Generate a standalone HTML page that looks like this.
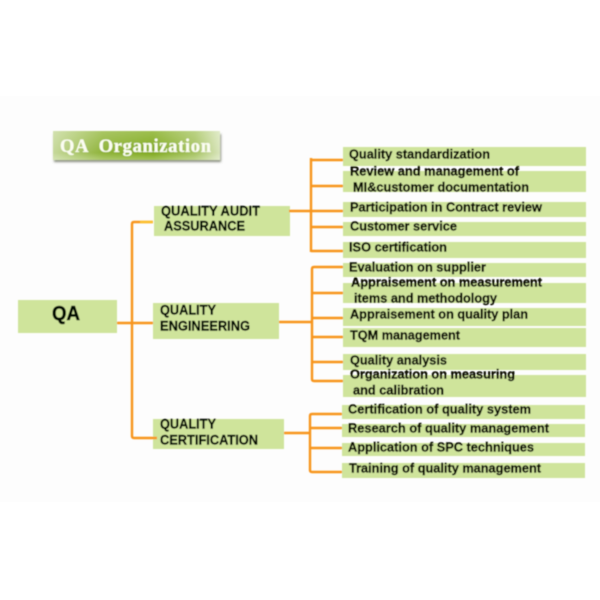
<!DOCTYPE html>
<html>
<head>
<meta charset="utf-8">
<style>
html,body{margin:0;padding:0;background:#fff;width:600px;height:600px;overflow:hidden}
svg{display:block}
.t{font-family:"Liberation Sans",sans-serif;font-weight:bold;font-size:12.9px;fill:#0a1004;stroke:#0a1004;stroke-width:.4}
.h{font-family:"Liberation Sans",sans-serif;font-weight:bold;font-size:13.6px;fill:#060b02;stroke:#060b02;stroke-width:.4}
.b{fill:#cfe49b}
.o{stroke:#f8941a;stroke-width:2.4;fill:none}
</style>
</head>
<body>
<svg width="600" height="600" viewBox="0 0 600 600" xmlns="http://www.w3.org/2000/svg">
<defs>
<linearGradient id="gv" x1="0" y1="0" x2="0" y2="1">
<stop offset="0" stop-color="#9dbe4e"/>
<stop offset="0.75" stop-color="#7fa81e"/>
<stop offset="1" stop-color="#a3c35a"/>
</linearGradient>
<linearGradient id="gh" x1="0" y1="0" x2="1" y2="0">
<stop offset="0" stop-color="#ffffff" stop-opacity="0.55"/>
<stop offset="0.3" stop-color="#ffffff" stop-opacity="0.12"/>
<stop offset="0.6" stop-color="#ffffff" stop-opacity="0"/>
<stop offset="0.85" stop-color="#ffffff" stop-opacity="0.3"/>
<stop offset="1" stop-color="#ffffff" stop-opacity="0.7"/>
</linearGradient>
<filter id="soft" x="-2%" y="-2%" width="104%" height="104%"><feGaussianBlur stdDeviation="0.5"/></filter>
<filter id="sh" x="-5%" y="-20%" width="110%" height="150%"><feGaussianBlur stdDeviation="1"/></filter>
</defs>
<rect x="0" y="96" width="600" height="406" fill="#fdfdfd"/>
<g filter="url(#soft)">
<rect x="54" y="134" width="167" height="28" fill="#8a8f80" filter="url(#sh)"/>
<rect x="53" y="131" width="167" height="29" fill="url(#gv)"/>
<rect x="53" y="131" width="167" height="29" fill="url(#gh)"/>
<text x="60" y="152" font-family="'Liberation Serif',serif" font-weight="bold" font-size="18.5" fill="#fbfdf2" stroke="#fbfdf2" stroke-width=".3" textLength="151" lengthAdjust="spacing" xml:space="preserve">QA  Organization</text>

<rect class="b" x="18" y="300" width="99" height="33"/>
<rect class="b" x="154" y="206" width="136" height="30"/>
<rect class="b" x="153" y="303" width="126" height="36"/>
<rect class="b" x="153" y="419" width="131" height="30"/>

<rect class="b" x="343" y="147" width="243" height="19"/>
<rect class="b" x="343" y="171" width="243" height="21"/>
<rect class="b" x="343" y="202" width="243" height="15"/>
<rect class="b" x="343" y="222" width="243" height="14"/>
<rect class="b" x="343" y="242" width="243" height="16"/>
<rect class="b" x="343" y="263" width="243" height="14"/>
<rect class="b" x="343" y="283" width="243" height="20"/>
<rect class="b" x="343" y="308" width="243" height="18"/>
<rect class="b" x="343" y="328" width="243" height="19"/>
<rect class="b" x="343" y="354" width="243" height="16"/>
<rect class="b" x="343" y="375" width="243" height="22"/>
<rect class="b" x="342" y="405" width="243" height="14"/>
<rect class="b" x="342" y="424" width="243" height="13"/>
<rect class="b" x="342" y="443" width="243" height="13"/>
<rect class="b" x="342" y="463" width="243" height="15"/>

<path class="o" d="M153 222H134Q132 222 132 224V436Q132 438 134 438H157"/>
<path class="o" d="M117 323H153"/>
<path d="M140 222H153" stroke="#fbc02d" stroke-width="2.4" fill="none"/>

<path class="o" d="M289 211H343M311 158V252M311 160H343M311 186H343M311 227H343M311 251H343"/>
<path class="o" d="M343 267H314Q312 267 312 269V379Q312 381 314 381H343M312 293H343M312 318H343M312 337H343M312 362H343M279 322H312"/>
<path class="o" d="M342 414H312Q310 414 310 416V470Q310 472 312 472H342M310 428H342M310 448H342M284 433H310"/>

<text x="52" y="320" font-family="'Liberation Sans',sans-serif" font-weight="bold" font-size="20" fill="#060b02" stroke="#060b02" stroke-width=".6" textLength="28" lengthAdjust="spacingAndGlyphs">QA</text>

<g transform="translate(0,0.5)">
<text class="h" x="161" y="215" textLength="99" lengthAdjust="spacingAndGlyphs">QUALITY AUDIT</text>
<text class="h" x="164" y="230" textLength="81" lengthAdjust="spacingAndGlyphs">ASSURANCE</text>
<text class="h" x="160" y="314" textLength="56" lengthAdjust="spacingAndGlyphs">QUALITY</text>
<text class="h" x="160" y="330" textLength="90" lengthAdjust="spacingAndGlyphs">ENGINEERING</text>
<text class="h" x="160" y="428" textLength="56" lengthAdjust="spacingAndGlyphs">QUALITY</text>
<text class="h" x="160" y="444" textLength="98" lengthAdjust="spacingAndGlyphs">CERTIFICATION</text>

<text class="t" x="349" y="158" textLength="141" lengthAdjust="spacingAndGlyphs">Quality standardization</text>
<text class="t" x="350" y="175" textLength="169" lengthAdjust="spacingAndGlyphs">Review and management of</text>
<text class="t" x="353" y="191" textLength="176" lengthAdjust="spacingAndGlyphs">MI&amp;customer documentation</text>
<text class="t" x="350" y="211" textLength="192" lengthAdjust="spacingAndGlyphs">Participation in Contract review</text>
<text class="t" x="350" y="230" textLength="107" lengthAdjust="spacingAndGlyphs">Customer service</text>
<text class="t" x="349" y="251" textLength="98" lengthAdjust="spacingAndGlyphs">ISO certification</text>
<text class="t" x="349" y="271" textLength="137" lengthAdjust="spacingAndGlyphs">Evaluation on supplier</text>
<text class="t" x="351" y="286" textLength="191" lengthAdjust="spacingAndGlyphs">Appraisement on measurement</text>
<text class="t" x="354" y="302" textLength="143" lengthAdjust="spacingAndGlyphs">items and methodology</text>
<text class="t" x="350" y="318" textLength="178" lengthAdjust="spacingAndGlyphs">Appraisement on quality plan</text>
<text class="t" x="350" y="339" textLength="110" lengthAdjust="spacingAndGlyphs">TQM management</text>
<text class="t" x="350" y="364" textLength="97" lengthAdjust="spacingAndGlyphs">Quality analysis</text>
<text class="t" x="350" y="378" textLength="165" lengthAdjust="spacingAndGlyphs">Organization on measuring</text>
<text class="t" x="353" y="394" textLength="91" lengthAdjust="spacingAndGlyphs">and calibration</text>
<text class="t" x="348" y="413" textLength="183" lengthAdjust="spacingAndGlyphs">Certification of quality system</text>
<text class="t" x="348" y="432" textLength="201" lengthAdjust="spacingAndGlyphs">Research of quality management</text>
<text class="t" x="348" y="451" textLength="186" lengthAdjust="spacingAndGlyphs">Application of SPC techniques</text>
<text class="t" x="349" y="472" textLength="192" lengthAdjust="spacingAndGlyphs">Training of quality management</text>
</g>
</g>
</svg>
</body>
</html>
